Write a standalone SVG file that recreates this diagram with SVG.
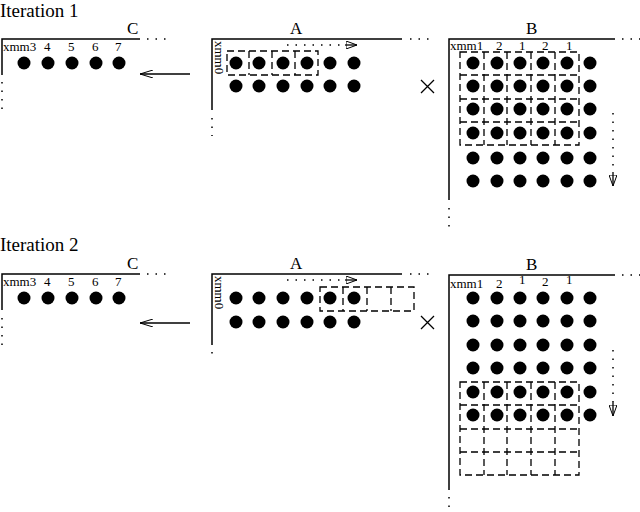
<svg xmlns="http://www.w3.org/2000/svg" width="640" height="512" viewBox="0 0 640 512">
<defs>
<style>
text{font-family:"Liberation Serif",serif;fill:#000}
.t{font-size:19px}.h{font-size:17px}.l{font-size:13px}
.ax{stroke:#000;stroke-width:1.5;fill:none}
.dt{stroke:#000;stroke-width:1.5;stroke-dasharray:1.5 7;fill:none}
.ds{stroke:#000;stroke-width:1.3;stroke-dasharray:7 4;fill:none}
.ar{stroke:#000;stroke-width:1.3;fill:none}
</style>
<marker id="ah" markerWidth="12" markerHeight="8" refX="11" refY="4" orient="auto" markerUnits="userSpaceOnUse"><path d="M0,0 L11,4 L0,8Z" fill="none" stroke="#000"/></marker>
<marker id="fa" markerWidth="14" markerHeight="8" refX="13" refY="4" orient="auto" markerUnits="userSpaceOnUse"><path d="M0,0 L13,4 L0,8" fill="none" stroke="#000"/></marker>
<g id="dot"><circle r="6.5" fill="#000"/></g>
</defs>
<text class="t" x="0" y="17">Iteration 1</text>
<text class="t" x="0" y="251">Iteration 2</text>

<g id="iter1">
<g id="C1">
<text class="h" x="127" y="34">C</text>
<path class="ax" d="M140,39H2V75"/><path class="dt" d="M147,39H172M2,82V112"/>
<text class="l" x="3" y="51">xmm3</text><text class="l" x="44" y="51">4</text><text class="l" x="68" y="51">5</text><text class="l" x="92" y="51">6</text><text class="l" x="115" y="51">7</text>
<use href="#dot" x="24" y="63"/><use href="#dot" x="48" y="63"/><use href="#dot" x="72" y="63"/><use href="#dot" x="96" y="63"/><use href="#dot" x="119" y="63"/>
</g>
<g id="A1">
<text class="h" x="290" y="34">A</text>
<path class="ax" d="M402,39H212V110"/><path class="dt" d="M410,39H430M212,118V136"/>
<text class="l" transform="translate(215,41) rotate(90)">xmm0</text>
<g><use href="#dot" x="236" y="63"/><use href="#dot" x="259" y="63"/><use href="#dot" x="283" y="63"/><use href="#dot" x="307" y="63"/><use href="#dot" x="330" y="63"/><use href="#dot" x="354" y="63"/>
<use href="#dot" x="236" y="86"/><use href="#dot" x="259" y="86"/><use href="#dot" x="283" y="86"/><use href="#dot" x="307" y="86"/><use href="#dot" x="330" y="86"/><use href="#dot" x="354" y="86"/></g>
<path class="ds" d="M227,51H318V75H227ZM249,51V75M272,51V75M295,51V75"/>
<path class="dt" d="M287,45H345"/><path class="ar" d="M345,45H357" marker-end="url(#ah)"/>
</g>
<g id="x1"><path class="ar" d="M421,80L434,93M434,80L421,93"/></g>
<g id="B1">
<text class="h" x="526" y="34">B</text>
<path class="ax" d="M615,39H449V200"/><path class="dt" d="M622,39H640M449,208V232"/>
<text class="l" x="450" y="50">xmm1</text><text class="l" x="496" y="50">2</text><text class="l" x="519" y="50">1</text><text class="l" x="542" y="50">2</text><text class="l" x="566" y="50">1</text>
<path class="ds" d="M460,52H579V145H460ZM460,75H579M460,99H579M460,122H579M484,52V145M507,52V145M531,52V145M555,52V145"/>
<path class="dt" d="M613,113V172"/><path class="ar" d="M613,172V186" marker-end="url(#ah)"/>
</g>
</g>

<g id="iter2">
<g id="C2">
<text class="h" x="127" y="269">C</text>
<path class="ax" d="M140,274H2V310"/><path class="dt" d="M147,274H172M2,318V346"/>
<text class="l" x="3" y="286">xmm3</text><text class="l" x="44" y="286">4</text><text class="l" x="68" y="286">5</text><text class="l" x="92" y="286">6</text><text class="l" x="115" y="286">7</text>
<use href="#dot" x="24" y="298"/><use href="#dot" x="48" y="298"/><use href="#dot" x="72" y="298"/><use href="#dot" x="96" y="298"/><use href="#dot" x="119" y="298"/>
</g>
<g id="A2">
<text class="h" x="290" y="269">A</text>
<path class="ax" d="M402,274H212V345"/><path class="dt" d="M410,274H430M212,352V360"/>
<text class="l" transform="translate(215,276) rotate(90)">xmm0</text>
<use href="#dot" x="236" y="298"/><use href="#dot" x="259" y="298"/><use href="#dot" x="283" y="298"/><use href="#dot" x="307" y="298"/><use href="#dot" x="330" y="298"/><use href="#dot" x="354" y="298"/>
<use href="#dot" x="236" y="322"/><use href="#dot" x="259" y="322"/><use href="#dot" x="283" y="322"/><use href="#dot" x="307" y="322"/><use href="#dot" x="330" y="322"/><use href="#dot" x="354" y="322"/>
<path class="ds" d="M320,287H414V311H320ZM343,287V311M367,287V311M391,287V311"/>
<path class="dt" d="M287,280H345"/><path class="ar" d="M345,280H357" marker-end="url(#ah)"/>
</g>
<g id="x2"><path class="ar" d="M421,316L434,329M434,316L421,329"/></g>
<g id="B2">
<text class="h" x="526" y="270">B</text>
<path class="ax" d="M615,275H449V490"/><path class="dt" d="M622,275H640M449,497V512"/>
<text class="l" x="450" y="288">xmm1</text><text class="l" x="496" y="288">2</text><text class="l" x="519" y="284">1</text><text class="l" x="542" y="286">2</text><text class="l" x="566" y="284">1</text>
<path class="ds" d="M460,382H579V475H460ZM460,405H579M460,429H579M460,452H579M484,382V475M507,382V475M531,382V475M555,382V475"/>
<path class="dt" d="M613,350V402"/><path class="ar" d="M613,402V416" marker-end="url(#ah)"/>
</g>
</g>

<g id="connectors">
<path class="ar" d="M190,74H140" marker-end="url(#fa)"/>
<path class="ar" d="M190,323H140" marker-end="url(#fa)"/>
</g>

<g id="Bdots">
<g id="r1"><use href="#dot" x="473" y="63"/><use href="#dot" x="497" y="63"/><use href="#dot" x="520" y="63"/><use href="#dot" x="543" y="63"/><use href="#dot" x="567" y="63"/><use href="#dot" x="590" y="63"/></g>
<use href="#r1" y="23"/><use href="#r1" y="46"/><use href="#r1" y="70"/><use href="#r1" y="95"/><use href="#r1" y="118"/>
<use href="#r1" y="235"/><use href="#r1" y="258"/><use href="#r1" y="282"/><use href="#r1" y="305"/><use href="#r1" y="329"/><use href="#r1" y="352"/>
</g>
</svg>
